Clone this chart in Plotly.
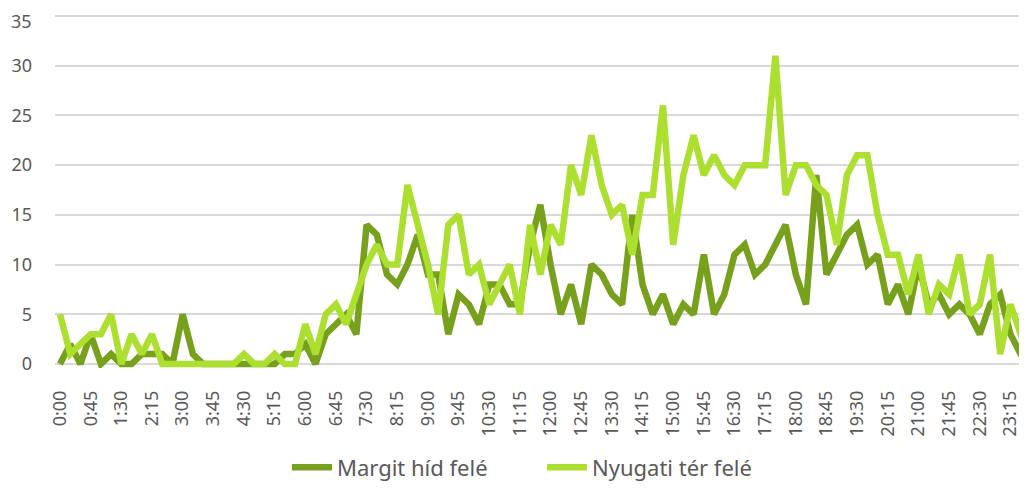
import plotly.graph_objects as go

# 15-minute slots 0:00 .. 23:45
times = [f"{h}:{m:02d}" for h in range(24) for m in (0, 15, 30, 45)]

margit = [0, 2, 0, 3, 0, 1, 0, 0, 1, 1, 1, 0, 5, 1, 0, 0,
          0, 0, 0, 0, 0, 0, 1, 1, 2, 0, 3, 4, 5, 3, 14, 13,
          9, 8, 10, 13, 9, 9, 3, 7, 6, 4, 8, 8, 6, 6, 12, 16,
          10, 5, 8, 4, 10, 9, 7, 6, 15, 8, 5, 7, 4, 6, 5, 11,
          5, 7, 11, 12, 9, 10, 12, 14, 9, 6, 19, 9, 11, 13, 14, 10,
          11, 6, 8, 5, 10, 6, 7, 5, 6, 5, 3, 6, 7, 3, 1, 0]

nyugati = [5, 1, 2, 3, 3, 5, 0, 3, 1, 3, 0, 0, 0, 0, 0, 0,
           0, 0, 1, 0, 0, 1, 0, 0, 4, 1, 5, 6, 4, 7, 10, 12,
           10, 10, 18, 14, 10, 5, 14, 15, 9, 10, 6, 8, 10, 5, 14, 9,
           14, 12, 20, 17, 23, 18, 15, 16, 11, 17, 17, 26, 12, 19, 23, 19,
           21, 19, 18, 20, 20, 20, 31, 17, 20, 20, 18, 17, 12, 19, 21, 21,
           15, 11, 11, 7, 11, 5, 8, 7, 11, 5, 6, 11, 1, 6, 3, 0]

series_names = ["Margit híd felé", "Nyugati tér felé"]
series_colors = ["#77a01c", "#addf30"]
y_ticks = [0, 5, 10, 15, 20, 25, 30, 35]

idx = list(range(len(times)))
tick_idx = idx[::3]
tick_txt = times[::3]

fig = go.Figure()
for name, vals, col in zip(series_names, [margit, nyugati], series_colors):
    fig.add_trace(go.Scatter(x=idx, y=vals, mode="lines", name=name,
                             line=dict(color=col, width=6.5)))

font_family = "Noto Sans"
grey = "#595959"

# page body has an 8px margin, so the figure is sized to fill the rest
fig.update_layout(
    width=1019, height=481,
    margin=dict(l=47, r=0, t=5, b=118),
    paper_bgcolor="white", plot_bgcolor="white",
    font=dict(family=font_family, color=grey, size=17),
    showlegend=True,
    legend=dict(orientation="h", x=0.501, xanchor="center", y=-0.28, yanchor="middle",
                font=dict(size=22, color=grey), itemwidth=40,
                entrywidth=200, entrywidthmode="pixels", tracegroupgap=0),
)
fig.update_xaxes(range=[-0.49, 94.62], tickmode="array", tickvals=tick_idx, ticktext=tick_txt,
                 tickangle=-90, showgrid=False, zeroline=False, showline=False, automargin=False,
                 ticks="", ticklabelstandoff=18, tickfont=dict(size=18, color=grey))
fig.update_yaxes(range=[-0.4, 35.3], tickvals=y_ticks,
                 showgrid=True, gridcolor="#d9d9d9", gridwidth=1.5, automargin=False,
                 zeroline=False, showline=False, ticks="", ticklabelstandoff=22,
                 tickfont=dict(size=18, color=grey))

# plotly drops the top tick label because it touches the figure edge, so write it as text
fig.add_annotation(text=str(y_ticks[-1]), xref="paper", yref="paper", x=0, y=1,
                   xanchor="right", yanchor="top", xshift=-22, yshift=5, borderpad=0,
                   showarrow=False, font=dict(size=18, color=grey, family=font_family))

fig.write_html("out.html")
